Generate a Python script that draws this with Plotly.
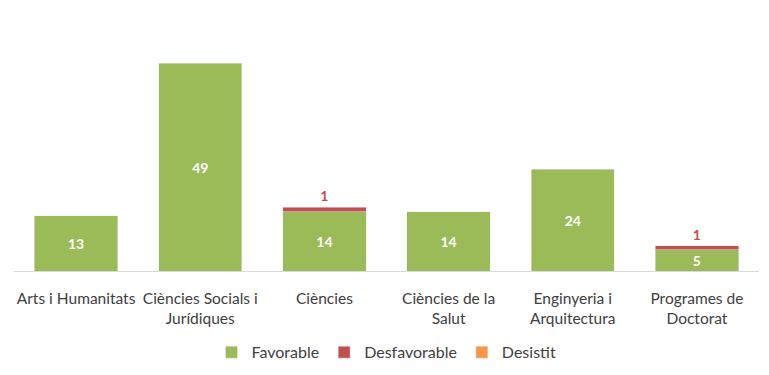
import plotly.graph_objects as go

categories = ["Arts i Humanitats", "Ciències Socials i<br>Jurídiques", "Ciències",
              "Ciències de la<br>Salut", "Enginyeria i<br>Arquitectura", "Programes de<br>Doctorat"]
favorable = [13, 49, 14, 14, 24, 5]
desfavorable = [None, None, 1, None, None, 1]
desistit = [None, None, None, None, None, None]

FONT = "Lato, 'Open Sans', sans-serif"

fig = go.Figure()
fig.add_trace(go.Bar(
    name="Favorable", x=categories, y=favorable, marker_color="#9BBB59",
    text=favorable, textposition="inside", insidetextanchor="middle",
    textangle=0, constraintext="none",
    textfont=dict(color="white", size=14, family=FONT, weight="bold"),
))
fig.add_trace(go.Bar(
    name="Desfavorable", x=categories, y=desfavorable, marker_color="#C0504D",
    text=[v if v else "" for v in desfavorable], textposition="outside",
    textangle=0, constraintext="none",
    textfont=dict(color="#C0504D", size=14, family=FONT, weight="bold"),
))
fig.add_trace(go.Bar(
    name="Desistit", x=categories, y=desistit, marker_color="#F79646",
))

fig.update_layout(
    barmode="stack", bargap=0.33,
    width=769, height=375,
    margin=dict(l=6, r=18, t=11, b=112, autoexpand=False),
    plot_bgcolor="white", paper_bgcolor="white",
    font=dict(family=FONT, size=15.5, color="#404040"),
    legend=dict(orientation="h", x=0.5, xanchor="center", y=-0.255, yanchor="top",
                font=dict(size=16, color="#404040"), itemwidth=30,
                traceorder="normal"),
    xaxis=dict(showline=True, linecolor="#D9D9D9", linewidth=1, ticks="",
               automargin=False, ticklabelstandoff=13,
               tickfont=dict(size=15.5, color="#404040")),
    yaxis=dict(range=[0, 59.4], visible=False, showgrid=False, automargin=False),
)
fig.update_traces(cliponaxis=False)

fig.write_html("out.html")
